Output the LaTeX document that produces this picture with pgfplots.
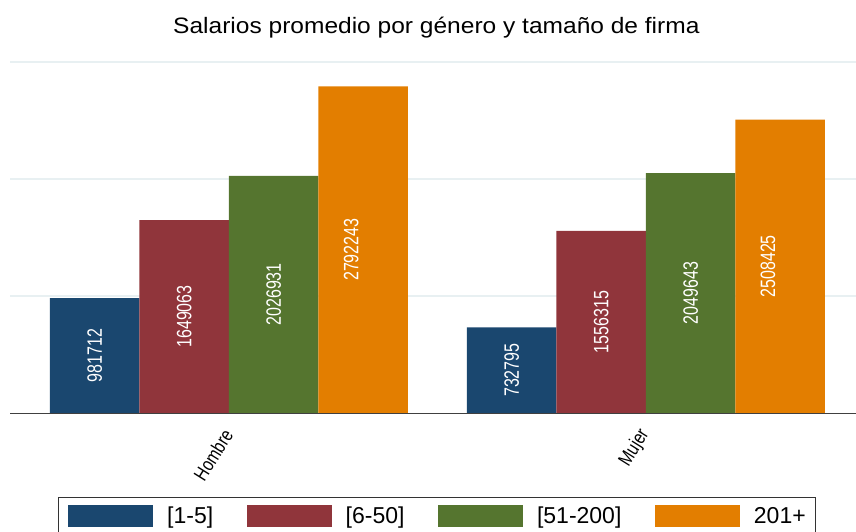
\documentclass[border=0pt]{standalone}
\usepackage{pgfplots}
\usepackage{pgfplotstable}
\pgfplotsset{compat=1.18}
\usepackage{fontspec}
\setmainfont{Liberation Sans}
\definecolor{c1}{RGB}{26,71,111}
\definecolor{c2}{RGB}{144,53,59}
\definecolor{c3}{RGB}{85,117,47}
\definecolor{c4}{RGB}{227,126,0}
\definecolor{gridc}{RGB}{232,240,242}
\pgfplotstableread{
x v1 v2 v3 v4
0 981712 1649063 2026931 2792243
1 732795 1556315 2049643 2508425
}\data
\pgfplotsset{
  myleg/.style={legend image code/.code={\fill[##1] (0pt,-11pt) rectangle (85pt,11pt); \path (99pt,0pt);}},
  lab/.style={draw=none, mark=none, forget plot, nodes near coords={\scalebox{0.77}[1]{\pgfplotspointmeta}}, point meta=explicit symbolic,
    nodes near coords style={font=\fontsize{20.8}{24}\selectfont, text=white, rotate=90, anchor=center}},
}
\begin{document}
\begin{tikzpicture}
\begin{axis}[name=ax,
  scale only axis, width=846pt, height=351pt,
  xmin=-0.525, xmax=1.504, ymin=0, ymax=3000000,
  scaled y ticks=false,
  axis x line*=bottom, axis y line*=left,
  y axis line style={draw=none},
  x axis line style={-, color=black!75, line width=0.8pt},
  xtick={0,1}, xticklabels={\scalebox{0.8}[1]{Hombre},\scalebox{0.8}[1]{Mujer}},
  xtick style={draw=none}, ytick style={draw=none},
  ytick={1000000,2000000,3000000}, yticklabels={},
  ymajorgrids, grid style={color=gridc, line width=1.2pt},
  xticklabel style={font=\fontsize{19.5}{22}\selectfont, rotate=58, anchor=east, yshift=-9pt, xshift=-15pt, inner sep=1pt},
  title={Salarios promedio por género y tamaño de firma},
  title style={font=\fontsize{22.3}{26}\selectfont, xscale=1.1, at={(0.504,1)}, anchor=base, yshift=22pt},
  legend columns=4,
  legend style={at={(0.5047,-0.239)}, anchor=north, draw=black!80, line width=0.8pt,
    font=\fontsize{23}{27}\selectfont, inner xsep=10pt, inner ysep=8pt,
    nodes={inner sep=0pt}, column sep=0pt,
    /tikz/every even column/.append style={column sep=33.5pt}},
]
\addplot[ybar, bar width=89.5pt, bar shift=-134.25pt, fill=c1, draw=none, myleg] table[x=x,y=v1]{\data};
\addlegendentry{[1-5]}
\addplot[ybar, bar width=89.5pt, bar shift=-44.75pt, fill=c2, draw=none, myleg] table[x=x,y=v2]{\data};
\addlegendentry{[6-50]}
\addplot[ybar, bar width=89.5pt, bar shift=44.75pt, fill=c3, draw=none, myleg] table[x=x,y=v3]{\data};
\addlegendentry{[51-200]}
\addplot[ybar, bar width=89.5pt, bar shift=134.25pt, fill=c4, draw=none, myleg] table[x=x,y=v4]{\data};
\addlegendentry{201+}
\addplot[lab] table[x expr=\thisrow{x}-0.3219, y expr=\thisrow{v1}/2, meta=v1]{\data};
\addplot[lab] table[x expr=\thisrow{x}-0.1073, y expr=\thisrow{v2}/2, meta=v2]{\data};
\addplot[lab] table[x expr=\thisrow{x}+0.1073, y expr=\thisrow{v3}/2, meta=v3]{\data};
\addplot[lab, nodes near coords style={yshift=12pt}] table[x expr=\thisrow{x}+0.3219, y expr=\thisrow{v4}/2, meta=v4]{\data};
\end{axis}
\pgfresetboundingbox
\path ([shift={(-10pt,-119pt)}]ax.south west) rectangle ([shift={(0pt,62pt)}]ax.north east);
\end{tikzpicture}
\end{document}
